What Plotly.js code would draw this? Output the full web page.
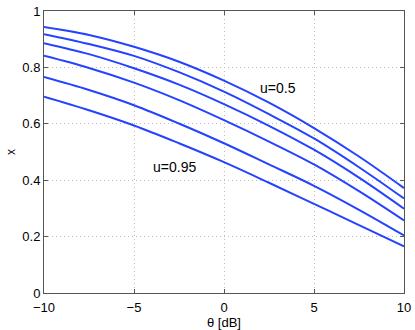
<!DOCTYPE html>
<html>
<head>
<meta charset="utf-8">
<script src="https://cdn.plot.ly/plotly-3.0.1.min.js"></script>
<style>html,body{margin:0;padding:0;background:#fff;}#plot{width:415px;height:330px;}</style>
</head>
<body>
<div id="plot"></div>
<script>
const theta = [-10, -7.5, -5, -2.5, 0, 2.5, 5, 7.5, 10];
const u050 = [0.943, 0.915, 0.873, 0.820, 0.753, 0.675, 0.585, 0.484, 0.372];
const u060 = [0.918, 0.883, 0.841, 0.783, 0.714, 0.634, 0.548, 0.446, 0.335];
const u070 = [0.886, 0.847, 0.797, 0.739, 0.670, 0.593, 0.508, 0.409, 0.299];
const u080 = [0.841, 0.798, 0.746, 0.684, 0.613, 0.537, 0.456, 0.361, 0.257];
const u090 = [0.766, 0.720, 0.666, 0.601, 0.531, 0.456, 0.380, 0.295, 0.204];
const u095 = [0.696, 0.648, 0.594, 0.531, 0.464, 0.391, 0.316, 0.241, 0.165];
const seriesList = [u050, u060, u070, u080, u090, u095];
const labels = [
  {text: 'u=0.5', x: 2.98, y: 0.726},
  {text: 'u=0.95', x: -2.76, y: 0.448}
];
const xTicks = [-10, -5, 0, 5, 10];
const xTickText = ['\u221210', '\u22125', '0', '5', '10'];
const yTicks = [0, 0.2, 0.4, 0.6, 0.8, 1];
const yTickText = ['0', '0.2', '0.4', '0.6', '0.8', '1'];

const traces = seriesList.map(v => ({
  x: theta, y: v, type: 'scatter', mode: 'lines',
  line: {color: '#2443ff', width: 2, shape: 'spline', smoothing: 1},
  hoverinfo: 'skip'
}));

const axisCommon = {
  showline: true, linecolor: '#555', linewidth: 1, mirror: 'ticks',
  ticks: 'inside', ticklen: 4, tickcolor: '#555',
  showgrid: true, gridcolor: '#bdbdbd', griddash: '1px,3px', gridwidth: 1,
  zeroline: false,
  tickfont: {family: 'Liberation Sans, Arial, sans-serif', size: 13, color: '#000'}
};

const layout = {
  width: 415, height: 330,
  margin: {l: 44, r: 11, t: 11, b: 37},
  paper_bgcolor: '#fff', plot_bgcolor: '#fff',
  showlegend: false,
  font: {family: 'Liberation Sans, Arial, sans-serif', size: 12, color: '#000'},
  xaxis: Object.assign({}, axisCommon, {
    range: [-10, 10], tickvals: xTicks, ticktext: xTickText,
    ticklabelstandoff: 2,
    title: {text: '\u03b8 [dB]', standoff: 0, font: {size: 13}}
  }),
  yaxis: Object.assign({}, axisCommon, {
    range: [0, 1], tickvals: yTicks, ticktext: yTickText,
    title: {text: 'x', standoff: 4, font: {size: 12}}
  }),
  annotations: labels.map(a => ({
    x: a.x, y: a.y, xref: 'x', yref: 'y', text: a.text, showarrow: false,
    font: {size: 14, color: '#000'}
  }))
};

Plotly.newPlot('plot', traces, layout, {displayModeBar: false, staticPlot: true});
</script>
</body>
</html>
